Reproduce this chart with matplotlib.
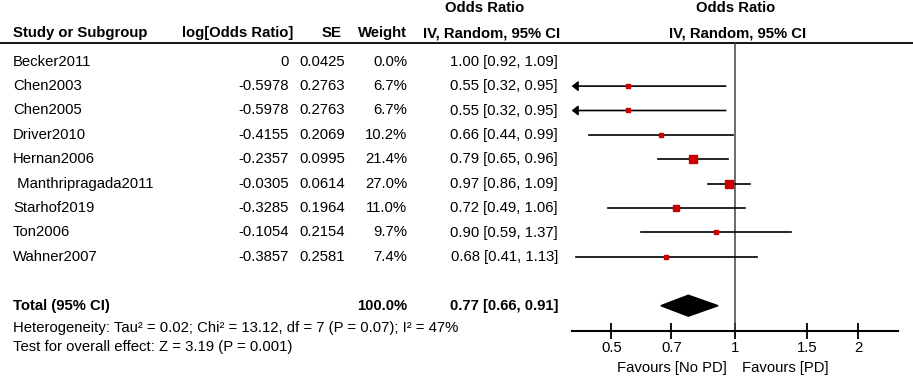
import numpy as np
import matplotlib.pyplot as plt

plt.rcParams['font.family'] = ['Liberation Sans', 'DejaVu Sans']

# Данные исследований
studies = ["Becker2011", "Chen2003", "Chen2005", "Driver2010", "Hernan2006",
           " Manthripragada2011", "Starhof2019", "Ton2006", "Wahner2007"]
log_or = [0, -0.5978, -0.5978, -0.4155, -0.2357, -0.0305, -0.3285, -0.1054, -0.3857]
se = [0.0425, 0.2763, 0.2763, 0.2069, 0.0995, 0.0614, 0.1964, 0.2154, 0.2581]
weight = [0.0, 6.7, 6.7, 10.2, 21.4, 27.0, 11.0, 9.7, 7.4]
odds = [1.00, 0.55, 0.55, 0.66, 0.79, 0.97, 0.72, 0.90, 0.68]
ci_lo = [0.92, 0.32, 0.32, 0.44, 0.65, 0.86, 0.49, 0.59, 0.41]
ci_hi = [1.09, 0.95, 0.95, 0.99, 0.96, 1.09, 1.06, 1.37, 1.13]

total_weight = 100.0
total_or, total_lo, total_hi = 0.77, 0.66, 0.91
heterogeneity = "Heterogeneity: Tau² = 0.02; Chi² = 13.12, df = 7 (P = 0.07); I² = 47%"
overall = "Test for overall effect: Z = 3.19 (P = 0.001)"

xticks = [0.5, 0.7, 1, 1.5, 2]
xticklabels = ["0.5", "0.7", "1", "1.5", "2"]
xmin, xmax = 0.4, 2.5

# Разметка в пикселях
W, H = 913, 380
row0, step = 61.7, 24.4
top_line, axis_y = 43, 330.7
fs = 10.7


def ry(i):
    return row0 + i * step


fig = plt.figure(figsize=(W / 100, H / 100), dpi=100)
ax0 = fig.add_axes([0, 0, 1, 1])
ax0.set_xlim(0, W)
ax0.set_ylim(H, 0)
ax0.axis("off")

# Заголовки
bold = dict(fontsize=fs, fontweight="bold", va="center")
ax0.text(13, 33, "Study or Subgroup", ha="left", **bold)
ax0.text(293, 33, "log[Odds Ratio]", ha="right", **bold)
ax0.text(342, 33, "SE", ha="right", **bold)
ax0.text(407, 33, "Weight", ha="right", **bold)
ax0.text(484.5, 8, "Odds Ratio", ha="center", **bold)
ax0.text(491.5, 33, "IV, Random, 95% CI", ha="center", **bold)
ax0.text(736, 8, "Odds Ratio", ha="center", **bold)
ax0.text(738, 33, "IV, Random, 95% CI", ha="center", **bold)
ax0.plot([0, W], [top_line, top_line], color="black", lw=1.3)

# Строки таблицы
for i, name in enumerate(studies):
    y = ry(i)
    ax0.text(13, y, name, ha="left", va="center", fontsize=fs)
    lo_txt = "0" if log_or[i] == 0 else f"{log_or[i]:.4f}"
    ax0.text(289, y, lo_txt, ha="right", va="center", fontsize=fs)
    ax0.text(345, y, f"{se[i]:.4f}", ha="right", va="center", fontsize=fs)
    ax0.text(407, y, f"{weight[i]:.1f}%", ha="right", va="center", fontsize=fs)
    ax0.text(558, y, f"{odds[i]:.2f} [{ci_lo[i]:.2f}, {ci_hi[i]:.2f}]",
             ha="right", va="center", fontsize=fs)

ty = ry(10)
ax0.text(13, ty, "Total (95% CI)", ha="left", **bold)
ax0.text(407, ty, f"{total_weight:.1f}%", ha="right", **bold)
ax0.text(558, ty, f"{total_or:.2f} [{total_lo:.2f}, {total_hi:.2f}]", ha="right", **bold)
ax0.text(13, 328, heterogeneity, ha="left", va="center", fontsize=fs)
ax0.text(13, 347, overall, ha="left", va="center", fontsize=fs)
ax0.text(727, 368, "Favours [No PD]", ha="right", va="center", fontsize=fs)
ax0.text(742, 368, "Favours [PD]", ha="left", va="center", fontsize=fs)

# Лесной график
x_left, x_right = 571.7, 898
ax = fig.add_axes([x_left / W, (H - axis_y) / H, (x_right - x_left) / W, (axis_y - top_line) / H])
ax.patch.set_alpha(0)
ax.set_xscale("log")
ax.set_xlim(xmin, xmax)
ax.set_ylim((axis_y - row0) / step, (top_line - row0) / step)
for s in ["top", "left", "right"]:
    ax.spines[s].set_visible(False)
ax.spines["bottom"].set_linewidth(1.5)
ax.set_yticks([])
ax.set_xticks(xticks)
ax.set_xticklabels(xticklabels, fontsize=fs)
ax.minorticks_off()
ax.tick_params(axis="x", direction="inout", length=11, width=1.3, pad=2)

ax.axvline(1, color="#444444", lw=1.1)

for i in range(len(studies)):
    if weight[i] <= 0:
        continue
    lo = max(ci_lo[i], xmin)
    hi = min(ci_hi[i], xmax)
    if ci_lo[i] < xmin:
        ax.annotate("", xy=(xmin, i), xytext=(hi, i),
                    arrowprops=dict(arrowstyle="-|>,head_length=0.45,head_width=0.36",
                                    color="black", lw=1.2,
                                    shrinkA=0, shrinkB=0, mutation_scale=8))
    else:
        ax.plot([lo, hi], [i, i], color="black", lw=1.2)
    ms = 5.8 * np.sqrt(weight[i] / 27)
    ax.plot(odds[i], i, marker="s", ms=ms, color="#cc0000", mec="#cc0000", zorder=3)

# Ромб суммарного эффекта
ax.fill([total_lo, total_or, total_hi, total_or], [10, 10 - 0.43, 10, 10 + 0.43],
        color="black", zorder=3)

fig.savefig("out.png", dpi=100)
